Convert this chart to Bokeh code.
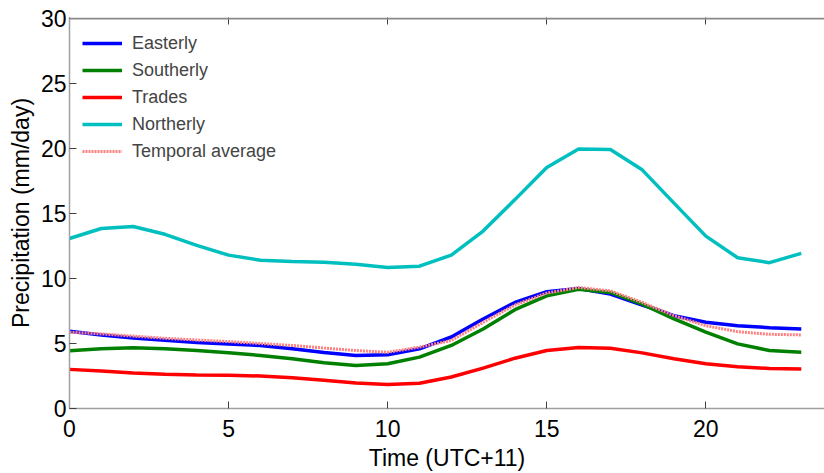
from bokeh.plotting import figure
from bokeh.models import (LinearAxis, Legend, LegendItem, FixedTicker, Range1d,
                          CustomJSTickFormatter, Span)
from bokeh.embed import file_html
from bokeh.resources import INLINE

# Diurnal cycle of precipitation by regime (hour of day, UTC+11)
hours = list(range(24))
easterly = [5.94, 5.66, 5.43, 5.25, 5.08, 4.97, 4.85, 4.59, 4.31, 4.08, 4.13, 4.59,
            5.50, 6.89, 8.16, 8.98, 9.23, 8.80, 7.96, 7.14, 6.63, 6.37, 6.22, 6.12]
southerly = [4.44, 4.59, 4.67, 4.59, 4.46, 4.28, 4.08, 3.83, 3.52, 3.31, 3.44, 3.95,
             4.85, 6.12, 7.60, 8.67, 9.18, 8.93, 8.03, 6.89, 5.87, 4.97, 4.46, 4.33]
trades = [3.01, 2.88, 2.73, 2.63, 2.57, 2.55, 2.50, 2.37, 2.17, 1.96, 1.84, 1.94,
          2.42, 3.11, 3.87, 4.46, 4.69, 4.64, 4.28, 3.83, 3.44, 3.21, 3.08, 3.04]
northerly = [13.08, 13.85, 14.00, 13.40, 12.55, 11.80, 11.40, 11.30, 11.25, 11.10, 10.85, 10.95,
             11.80, 13.65, 16.07, 18.54, 19.97, 19.92, 18.36, 15.80, 13.26, 11.60, 11.22, 11.93]
temporal_avg = [5.87, 5.74, 5.57, 5.40, 5.27, 5.15, 5.00, 4.85, 4.65, 4.46, 4.33, 4.72,
                5.23, 6.63, 7.96, 8.88, 9.31, 9.05, 8.16, 7.14, 6.37, 5.91, 5.71, 5.66]

x_ticks = [0, 5, 10, 15, 20]
y_ticks = [0, 5, 10, 15, 20, 25, 30]
y_max = 30

FONT = "Liberation Sans"
AXIS_GREY = "#a0a0a0"
TICK_GREY = "#404040"

p = figure(width=824, height=473, output_backend="svg", toolbar_location=None,
           x_range=Range1d(0, 23.73), y_range=Range1d(0, y_max + 0.08),
           min_border_left=69, min_border_right=0, min_border_top=17,
           min_border_bottom=0, background_fill_color=None,
           border_fill_color=None)
p.outline_line_color = None
p.grid.visible = False

series = [
    ("Easterly", easterly, "#0000ff", None),
    ("Southerly", southerly, "#008000", None),
    ("Trades", trades, "#ff0000", None),
    ("Northerly", northerly, "#00bfbf", None),
    ("Temporal average", temporal_avg, "#ff8080", "2 1"),
]

items = []
for name, vals, color, dash in series:
    kw = dict(line_color=color, line_width=3.5)
    if dash:
        kw["line_dash"] = dash
        kw["line_width"] = 3
    r = p.line(hours, vals, **kw)
    items.append(LegendItem(label=name, renderers=[r]))

for ax in (p.xaxis[0], p.yaxis[0]):
    ax.axis_line_color = AXIS_GREY
    ax.axis_line_width = 1.5
    ax.major_tick_line_color = TICK_GREY
    ax.major_tick_in = 7
    ax.major_tick_out = 0
    ax.minor_tick_line_color = None
    ax.major_label_text_font = FONT
    ax.major_label_text_font_size = "23px"
    ax.major_label_text_color = "black"
    ax.axis_label_text_font = FONT
    ax.axis_label_text_font_size = "23px"
    ax.axis_label_text_font_style = "normal"
    ax.axis_label_text_color = "black"

p.xaxis[0].ticker = FixedTicker(ticks=x_ticks)
p.yaxis[0].ticker = FixedTicker(ticks=y_ticks)
p.xaxis[0].axis_label = "Time (UTC+11)"
p.yaxis[0].axis_label = "Precipitation (mm/day)"
p.xaxis[0].major_label_standoff = 11
p.xaxis[0].axis_label_standoff = 5
p.yaxis[0].major_label_standoff = 3
p.yaxis[0].axis_label_standoff = 4

# inward ticks along the top edge, no labels
top = LinearAxis(ticker=FixedTicker(ticks=x_ticks), axis_line_color=None,
                 major_tick_line_color=TICK_GREY, major_tick_in=7, major_tick_out=0,
                 minor_tick_line_color=None,
                 formatter=CustomJSTickFormatter(code="return ''"),
                 major_label_standoff=0)
p.add_layout(top, "above")
# top edge of the box
p.add_layout(Span(location=y_max, dimension="width", line_color="#8a8a8a",
                  line_width=2, level="overlay"))

legend = Legend(items=items, location="top_left", border_line_color=None,
                background_fill_alpha=0, label_text_font=FONT,
                label_text_font_size="18px", glyph_width=40, glyph_height=26,
                label_height=26, label_standoff=10, spacing=1, padding=12, margin=13)
p.add_layout(legend)

open("out.html", "w").write(file_html(p, INLINE))
